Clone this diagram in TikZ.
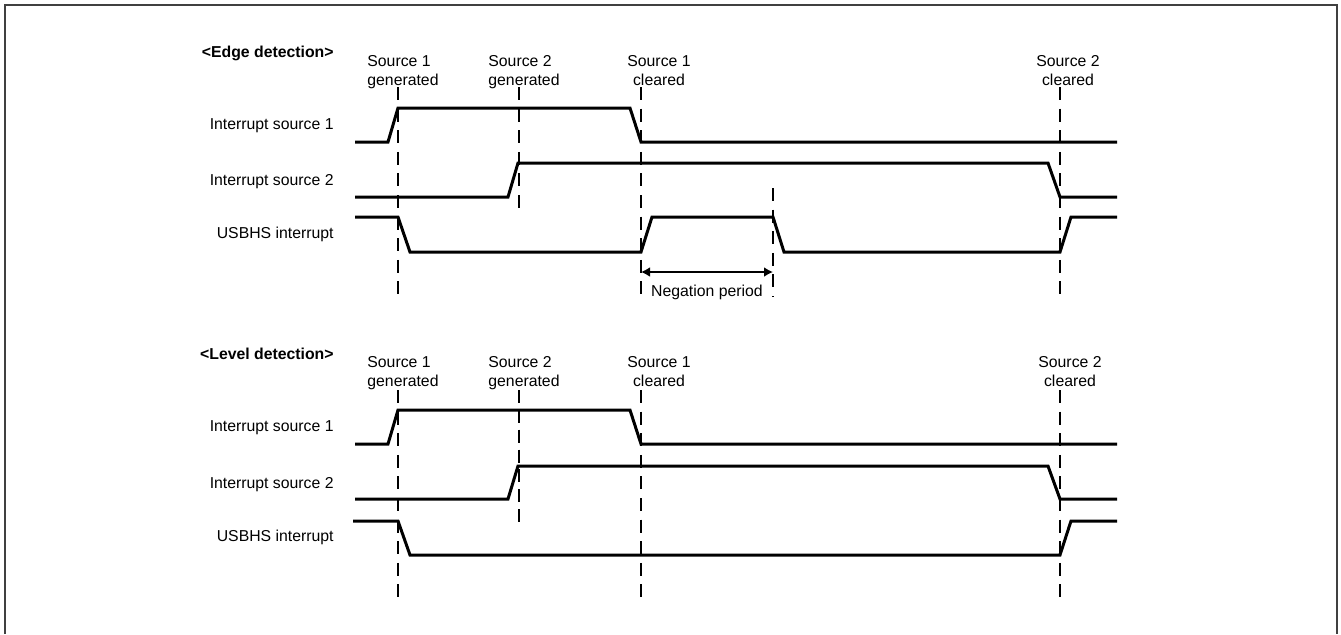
\documentclass[tikz,border=0pt]{standalone}
\usepackage{fontspec}
\setmainfont{Liberation Sans}
\usetikzlibrary{arrows.meta}

\tikzset{
  sig/.style={line width=1.5pt, line join=miter},
  guide/.style={line width=0.9pt, dash pattern=on 6.5pt off 4.3pt},
  lbl/.style={font=\fontsize{7.9}{9.5}\selectfont, inner sep=0pt},
  ttl/.style={font=\fontsize{7.9}{9.5}\selectfont\bfseries, inner sep=0pt, anchor=east},
}

\begin{document}
\begin{tikzpicture}[x=0.5pt,y=-0.5pt]
            \useasboundingbox (0,0) rectangle (1341,634);
            \draw[line width=1pt, black!75] (4.5,634) -- (4.5,5) -- (1337,5) -- (1337,634);

            % edge detection
            \node[ttl] (edgettl) at (334,53) {<Edge detection>};
            \node[lbl, anchor=north west, align=left] (egen1) at (367,54.7) {Source 1\\generated};
            \node[lbl, anchor=north west, align=left] (egen2) at (488,54.7) {Source 2\\generated};
            \node[lbl, anchor=north, align=center] (eclr1) at (659,54.7) {Source 1\\cleared};
            \node[lbl, anchor=north, align=center] (eclr2) at (1068,54.7) {Source 2\\cleared};

            \node[lbl, anchor=east] (esrc1) at (334,126) {Interrupt source 1};
            \node[lbl, anchor=east] (esrc2) at (334,182) {Interrupt source 2};
            \node[lbl, anchor=east] (eusb) at (334,234) {USBHS interrupt};

            \draw[sig] (355,142) -- (388,142) -- (398,108) -- (630,108) -- (641,142) -- (1117,142);
            \draw[sig] (355,197) -- (508,197) -- (518,163) -- (1048,163) -- (1060,197) -- (1117,197);
            \draw[sig] (355,217) -- (398,217) -- (410,252) -- (641,252) -- (652,217)
                       -- (773,217) -- (784,252) -- (1060,252) -- (1071,217) -- (1117,217);

            \draw[guide] (398,87) -- (398,294);
            \draw[guide] (519,87) -- (519,212);
            \draw[guide] (641,87) -- (641,294);
            \draw[guide] (773,188) -- (773,297);
            \draw[guide] (1060,87) -- (1060,294);

            \coordinate (neg1) at (641,272);
            \coordinate (neg2) at (773,272);
            \draw[line width=0.9pt, {Latex[length=4.5pt,width=5pt]}-{Latex[length=4.5pt,width=5pt]}] (neg1) -- (neg2);
            \node[lbl] (negtxt) at (707,292) {Negation period};

            % level detection
            \node[ttl] (levelttl) at (334,354) {<Level detection>};
            \node[lbl, anchor=north west, align=left] (lgen1) at (367,356.5) {Source 1\\generated};
            \node[lbl, anchor=north west, align=left] (lgen2) at (488,356.5) {Source 2\\generated};
            \node[lbl, anchor=north, align=center] (lclr1) at (659,356.5) {Source 1\\cleared};
            \node[lbl, anchor=north, align=center] (lclr2) at (1070,356.5) {Source 2\\cleared};

            \node[lbl, anchor=east] (lsrc1) at (334,428) {Interrupt source 1};
            \node[lbl, anchor=east] (lsrc2) at (334,485) {Interrupt source 2};
            \node[lbl, anchor=east] (lusb) at (334,537) {USBHS interrupt};

            \draw[sig] (355,444) -- (388,444) -- (398,410) -- (630,410) -- (641,444) -- (1117,444);
            \draw[sig] (355,499) -- (508,499) -- (518,466) -- (1048,466) -- (1060,499) -- (1117,499);
            \draw[sig] (353,521) -- (398,521) -- (410,555) -- (1060,555) -- (1071,521) -- (1117,521);

            \draw[guide] (398,390) -- (398,597);
            \draw[guide, dash pattern=on 6.5pt off 3.42pt] (519,390) -- (519,522);
            \draw[guide] (641,390) -- (641,597);
            \draw[guide] (1060,390) -- (1060,597);
\end{tikzpicture}
\end{document}
